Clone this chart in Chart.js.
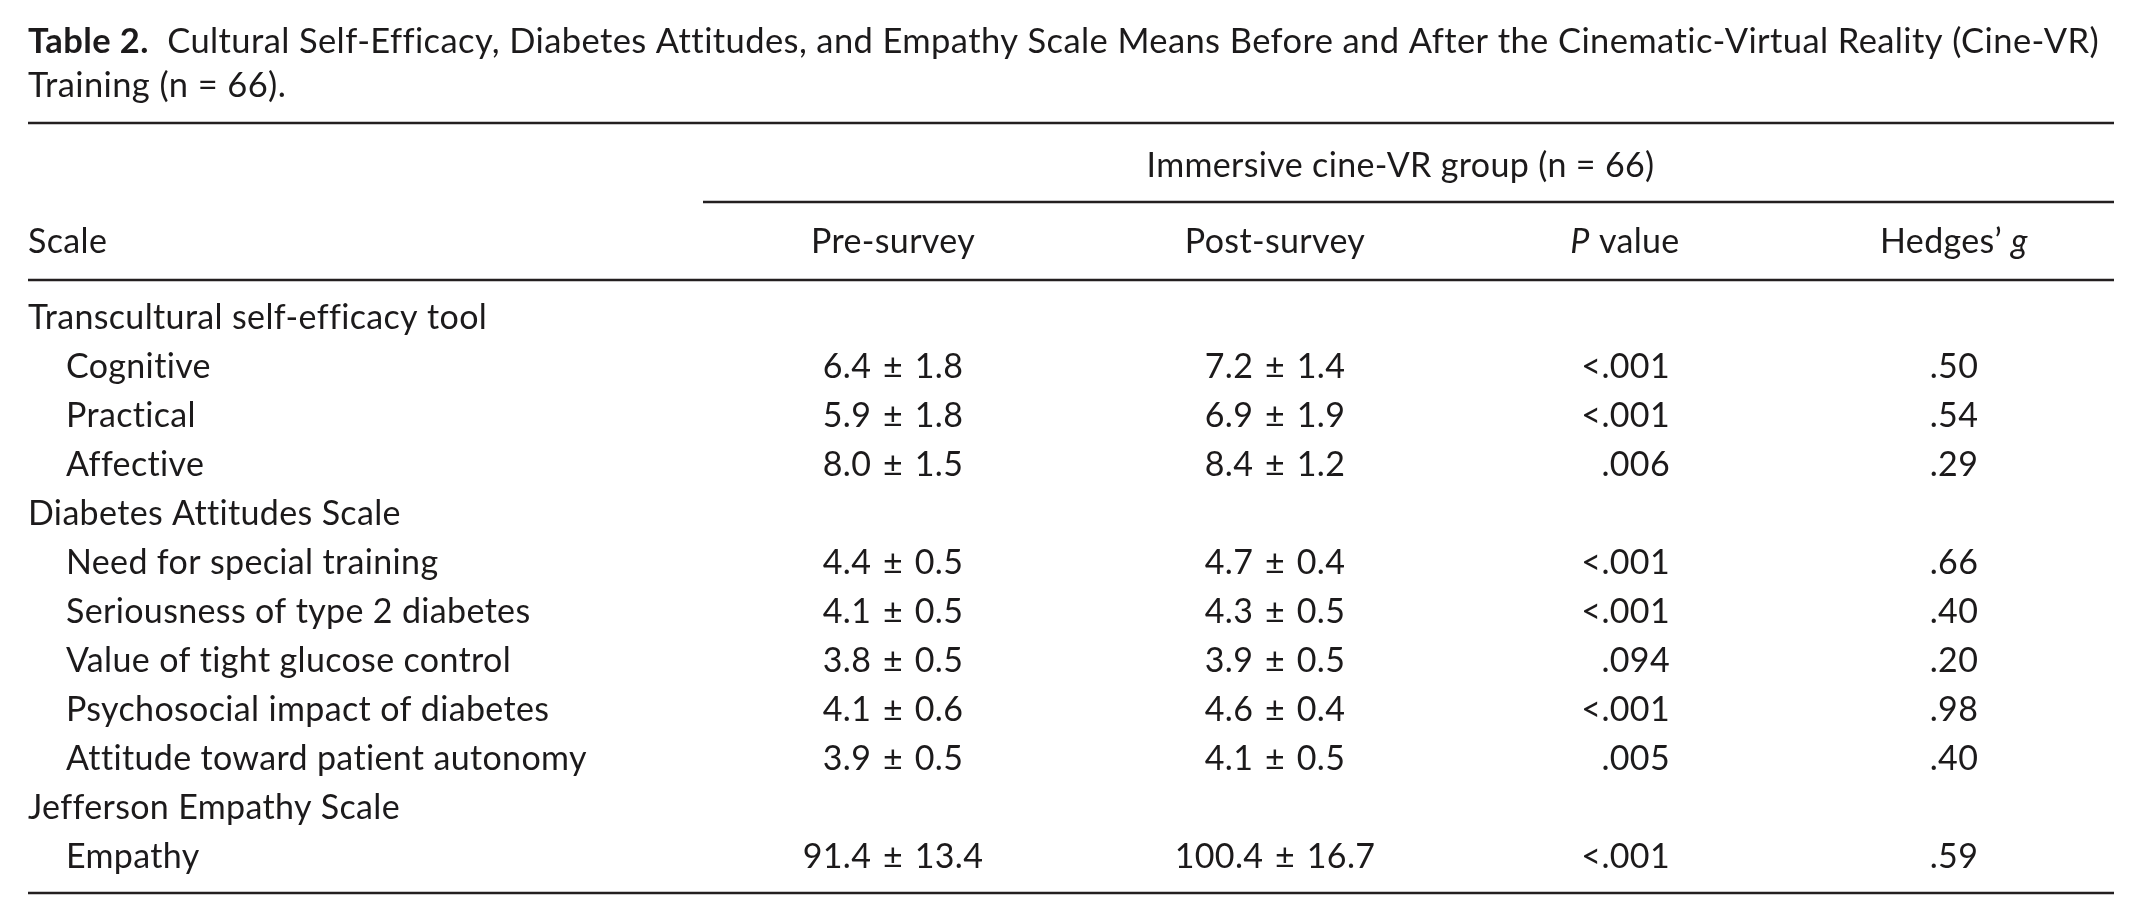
<!DOCTYPE html>
<html>
<head>
<meta charset="utf-8">
<script src="https://cdn.jsdelivr.net/npm/chart.js@4.4.1/dist/chart.umd.min.js"></script>
<style>
  html, body { margin: 0; padding: 0; background: #fff; }
  #wrap { width: 2141px; height: 919px; }
</style>
</head>
<body>
<div id="wrap"><canvas id="tbl" width="2141" height="919"></canvas></div>
<script>
// table content
const titleBold = 'Table 2.';
const titleLine1 = '  Cultural Self-Efficacy, Diabetes Attitudes, and Empathy Scale Means Before and After the Cinematic-Virtual Reality (Cine-VR)';
const titleLine2 = 'Training (n = 66).';
const spanHeader = 'Immersive cine-VR group (n = 66)';

const groupNames = ['Transcultural self-efficacy tool', 'Diabetes Attitudes Scale', 'Jefferson Empathy Scale'];
const itemNames = [
  'Cognitive', 'Practical', 'Affective',
  'Need for special training', 'Seriousness of type 2 diabetes', 'Value of tight glucose control',
  'Psychosocial impact of diabetes', 'Attitude toward patient autonomy',
  'Empathy'
];
const itemGroup = [0, 0, 0, 1, 1, 1, 1, 1, 2];
const preMean  = [6.4, 5.9, 8.0, 4.4, 4.1, 3.8, 4.1, 3.9, 91.4];
const preSD    = [1.8, 1.8, 1.5, 0.5, 0.5, 0.5, 0.6, 0.5, 13.4];
const postMean = [7.2, 6.9, 8.4, 4.7, 4.3, 3.9, 4.6, 4.1, 100.4];
const postSD   = [1.4, 1.9, 1.2, 0.4, 0.5, 0.5, 0.4, 0.5, 16.7];
const pValues  = ['<.001', '<.001', '.006', '<.001', '<.001', '.094', '<.001', '.005', '<.001'];
const hedgesG  = [0.50, 0.54, 0.29, 0.66, 0.40, 0.20, 0.98, 0.40, 0.59];

// layout (pixel units of the linear scales)
const W = 2141, H = 919;
const FONT = 'Lato, "Open Sans", sans-serif';
const bodySize = 34, titleSize = 34.5;
const bodySpacing = '0.35px', titleSpacing = '0.4px';
const ink = '#1c1a1b';
const leftX = 28, indentX = 66, rightX = 2114, spanX0 = 703;
const colPre = 893, colPost = 1275, colPRight = 1670, colPHead = 1625, colG = 1954;
const rowBase = 329, rowStep = 49;
const yTitle1 = 53, yTitle2 = 97, ySpan = 177, yHead = 253;
const ruleYs = [123, 280, 893];
const ruleW = 2.6;

const fmt = (m, s) => m.toFixed(1) + '\u2004\u00b1\u2004' + s.toFixed(1);
const fmtG = g => g.toFixed(2).replace(/^0/, '');

// build body rows: group label row followed by its items
const rowLabels = [], rowIndent = [], rowItem = [];
groupNames.forEach((g, gi) => {
  rowLabels.push(g); rowIndent.push(false); rowItem.push(-1);
  itemGroup.forEach((ig, ii) => {
    if (ig === gi) { rowLabels.push(itemNames[ii]); rowIndent.push(true); rowItem.push(ii); }
  });
});
const rowY = i => rowBase + i * rowStep;

function textSet(points, labels, align, size, spacing) {
  return {
    type: 'scatter', data: points, labels2: labels, align: align,
    size: size || bodySize, spacing: spacing || bodySpacing,
    pointRadius: 0, pointHoverRadius: 0, showLine: false
  };
}
function rule(x0, x1, y) {
  return {
    type: 'scatter', data: [{x: x0, y: y}, {x: x1, y: y}], showLine: true,
    borderColor: '#231f20', borderWidth: ruleW, pointRadius: 0
  };
}

const datasets = [];
ruleYs.forEach(y => datasets.push(rule(leftX, rightX, y)));
datasets.push(rule(spanX0, rightX, 202));

// title
datasets.push(textSet([{x: leftX, y: yTitle1}], [[[titleBold, 'bold'], [titleLine1, '']]], 'left', titleSize, titleSpacing));
datasets.push(textSet([{x: leftX, y: yTitle2}], [[[titleLine2, '']]], 'left', titleSize, titleSpacing));
// headers
datasets.push(textSet([{x: (spanX0 + rightX) / 2 - 8, y: ySpan}], [[[spanHeader, '']]], 'center'));
datasets.push(textSet(
  [{x: leftX, y: yHead}, {x: colPre, y: yHead}, {x: colPost, y: yHead}, {x: colPHead, y: yHead}, {x: colG, y: yHead}],
  [[['Scale', '']], [['Pre-survey', '']], [['Post-survey', '']], [['P', 'italic'], [' value', '']], [['Hedges\u2019 ', ''], ['g', 'italic']]],
  'center'));
datasets[datasets.length - 1].alignFirst = 'left';

// body
datasets.push(textSet(rowLabels.map((l, i) => ({x: rowIndent[i] ? indentX : leftX, y: rowY(i)})),
  rowLabels.map(l => [[l, '']]), 'left'));
const rowsWithItem = rowItem.map((it, i) => [it, i]).filter(p => p[0] >= 0);
datasets.push(textSet(rowsWithItem.map(p => ({x: colPre, y: rowY(p[1])})),
  rowsWithItem.map(p => [[fmt(preMean[p[0]], preSD[p[0]]), '']]), 'center'));
datasets.push(textSet(rowsWithItem.map(p => ({x: colPost, y: rowY(p[1])})),
  rowsWithItem.map(p => [[fmt(postMean[p[0]], postSD[p[0]]), '']]), 'center'));
datasets.push(textSet(rowsWithItem.map(p => ({x: colPRight, y: rowY(p[1])})),
  rowsWithItem.map(p => [[pValues[p[0]], '']]), 'right'));
datasets.push(textSet(rowsWithItem.map(p => ({x: colG, y: rowY(p[1])})),
  rowsWithItem.map(p => [[fmtG(hedgesG[p[0]]), '']]), 'center'));

// draws the text runs at the points placed by the scales
const cellText = {
  id: 'cellText',
  afterDatasetsDraw(chart) {
    const ctx = chart.ctx;
    ctx.save();
    ctx.fillStyle = ink;
    ctx.textBaseline = 'alphabetic';
    ctx.textAlign = 'left';
    chart.data.datasets.forEach((ds, di) => {
      if (!ds.labels2) return;
      ctx.letterSpacing = ds.spacing;
      chart.getDatasetMeta(di).data.forEach((el, j) => {
        const runs = ds.labels2[j];
        const align = (j === 0 && ds.alignFirst) ? ds.alignFirst : ds.align;
        const fonts = runs.map(r => (r[1] ? r[1] + ' ' : '') + ds.size + 'px ' + FONT);
        const widths = runs.map((r, k) => { ctx.font = fonts[k]; return ctx.measureText(r[0]).width; });
        const total = widths.reduce((a, b) => a + b, 0);
        let x = align === 'left' ? el.x : align === 'right' ? el.x - total : el.x - total / 2;
        runs.forEach((r, k) => {
          ctx.font = fonts[k];
          ctx.fillText(r[0], x, el.y);
          x += widths[k];
        });
      });
    });
    ctx.restore();
  }
};

new Chart(document.getElementById('tbl'), {
  type: 'scatter',
  data: { datasets: datasets },
  options: {
    responsive: false,
    animation: false,
    events: [],
    layout: { padding: 0 },
    plugins: { legend: { display: false }, tooltip: { enabled: false } },
    scales: {
      x: { type: 'linear', min: 0, max: W, display: false },
      y: { type: 'linear', min: 0, max: H, reverse: true, display: false }
    }
  },
  plugins: [cellText]
});
</script>
</body>
</html>
